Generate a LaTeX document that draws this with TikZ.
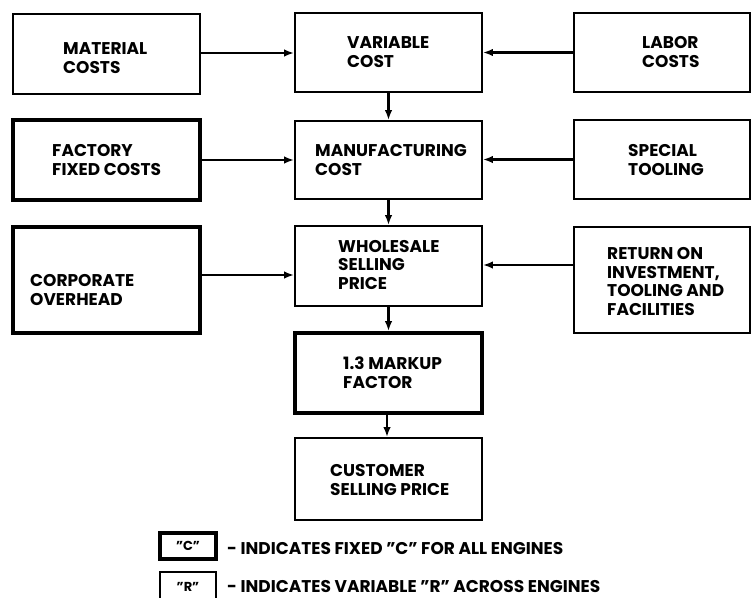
\documentclass[tikz,border=0pt]{standalone}
\usepackage{fontspec}
\setmainfont{Poppins}
\usetikzlibrary{arrows.meta}
\begin{document}
\begin{tikzpicture}[x=1pt,y=-1pt,
  thinbox/.style={draw, line width=1.8pt, inner sep=0pt, minimum width=#1},
  thinbox/.default=187pt,
  thickbox/.style={draw, line width=3.8pt, inner sep=0pt, minimum width=#1},
  thickbox/.default=187pt,
  lbl/.style={anchor=base west, align=left, inner sep=0pt, font=\fontsize{17}{18.5}\selectfont\bfseries},
  arr/.style={-{Latex[length=10pt,width=7.5pt]}, line width=2.6pt}
]
\clip (0,0) rectangle (751,597);
% boxes
\node[thinbox, minimum height=80pt] (mat) at (106.5,54) {};
\node[thinbox, minimum height=79pt] (var) at (388.5,52.5) {};
\node[thinbox=176pt, minimum height=79pt] (lab) at (662,52.5) {};
\node[thickbox, minimum height=80pt] (fac) at (106.5,160) {};
\node[thinbox, minimum height=78pt] (man) at (388.5,160) {};
\node[thinbox=176pt, minimum height=79pt] (spe) at (662,159.5) {};
\node[thickbox, minimum height=106pt] (cor) at (106.5,280) {};
\node[thinbox, minimum height=80pt] (who) at (388.5,266) {};
\node[thinbox=176pt, minimum height=106pt] (ret) at (662,280) {};
\node[thickbox, minimum height=80pt] (mar) at (388.5,373) {};
\node[thinbox, minimum height=82pt] (cus) at (388.5,479) {};
\node[thickbox=56pt, minimum height=26pt, font=\fontsize{13}{14}\selectfont\bfseries] (legc) at (188,546) {"C"};
\node[thinbox=56pt, minimum height=30pt, font=\fontsize{13}{14}\selectfont\bfseries] (legr) at (188,587) {"R"};
% labels (anchored at the baseline of the last line)
\node[lbl] (tmat) at (63,73) {MATERIAL\\COSTS};
\node[lbl] (tvar) at (347,67) {VARIABLE\\COST};
\node[lbl] (tlab) at (642,67) {LABOR\\COSTS};
\node[lbl] (tfac) at (52,175) {FACTORY\\FIXED COSTS};
\node[lbl] (tman) at (315,175) {MANUFACTURING\\COST};
\node[lbl] (tspe) at (628,175) {SPECIAL\\TOOLING};
\node[lbl] (tcor) at (30,305) {CORPORATE\\OVERHEAD};
\node[lbl] (twho) at (338,289) {WHOLESALE\\SELLING\\PRICE};
\node[lbl] (tret) at (607,315) {RETURN ON\\INVESTMENT,\\TOOLING AND\\FACILITIES};
\node[lbl] (tmar) at (343,388) {1.3 MARKUP\\FACTOR};
\node[lbl] (tcus) at (330,495) {CUSTOMER\\SELLING PRICE};
\node[lbl] (tlc) at (227,554) {- INDICATES FIXED "C" FOR ALL ENGINES};
\node[lbl] (tlr) at (227,592) {- INDICATES VARIABLE "R" ACROSS ENGINES};
% connectors
\draw[arr] ([yshift=1pt]mat.east) -- ([yshift=1pt]mat.east -| var.west);
\draw[arr] (lab.west) -- (lab.west -| var.east);
\draw[arr] (var.south) -- (var.south |- man.north);
\draw[arr] (fac.east) -- (fac.east -| man.west);
\draw[arr] (spe.west) -- (spe.west -| man.east);
\draw[arr] (man.south) -- (man.south |- who.north);
\draw[arr] ([yshift=5pt]cor.east) -- ([yshift=5pt]cor.east -| who.west);
\draw[arr] ([yshift=15pt]ret.west) -- ([yshift=15pt]ret.west -| who.east);
\draw[arr] (who.south) -- (who.south |- mar.north);
\draw[arr] ([xshift=-1.5pt]mar.south) -- ([xshift=-1.5pt]mar.south |- cus.north);
\end{tikzpicture}
\end{document}
